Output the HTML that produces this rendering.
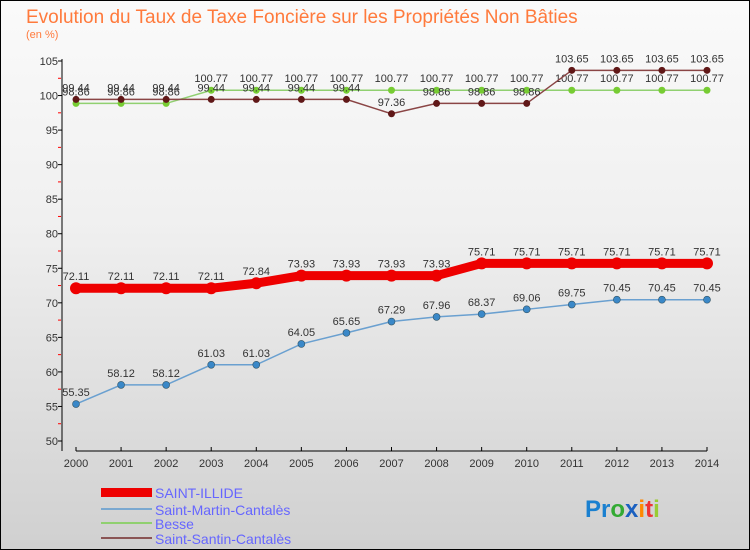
<!DOCTYPE html>
<html><head><meta charset="utf-8"><style>
body{margin:0;}
#c{width:748px;height:548px;border:1px solid #000;background:linear-gradient(#fafafa,#f0f0f0 40%,#d0d0d0);position:relative;font-family:"Liberation Sans",sans-serif;overflow:hidden}
</style></head><body>
<div id="c">
<svg id="s" width="748" height="548" xmlns="http://www.w3.org/2000/svg" style="position:absolute;left:0;top:0">
<text x="25" y="22" font-size="19" fill="#ff7a3c">Evolution du Taux de Taxe Foncière sur les Propriétés Non Bâties</text>
<text x="25" y="37" font-size="11" fill="#ff7a3c">(en %)</text>
<g id="axes"></g><g id="series"></g>
<g>
<rect x="100" y="487" width="51" height="9" fill="#e00"/>
<text x="154" y="497" font-size="14" fill="#66f">SAINT-ILLIDE</text>
<line x1="100" y1="508" x2="151" y2="508" stroke="#7aa8d0" stroke-width="2"/>
<text x="154" y="514" font-size="14" fill="#66f">Saint-Martin-Cantalès</text>
<line x1="100" y1="522" x2="151" y2="522" stroke="#90d070" stroke-width="2"/>
<text x="154" y="528" font-size="14" fill="#66f">Besse</text>
<line x1="100" y1="537" x2="151" y2="537" stroke="#8a5555" stroke-width="2"/>
<text x="154" y="543" font-size="14" fill="#66f">Saint-Santin-Cantalès</text>
</g>
<text x="584" y="516" font-size="24" font-weight="bold"><tspan fill="#1a80d0">Pr</tspan><tspan fill="#3a3">o</tspan><tspan fill="#1a60c0">x</tspan><tspan fill="#f80">i</tspan><tspan fill="#e33">t</tspan><tspan fill="#9c3">i</tspan></text>
</svg></div>
<script>
const years=[2000,2001,2002,2003,2004,2005,2006,2007,2008,2009,2010,2011,2012,2013,2014];
const yTicks=[50,55,60,65,70,75,80,85,90,95,100,105];
const illide=[72.11,72.11,72.11,72.11,72.84,73.93,73.93,73.93,73.93,75.71,75.71,75.71,75.71,75.71,75.71];
const martin=[55.35,58.12,58.12,61.03,61.03,64.05,65.65,67.29,67.96,68.37,69.06,69.75,70.45,70.45,70.45];
const besse=[98.86,98.86,98.86,100.77,100.77,100.77,100.77,100.77,100.77,100.77,100.77,100.77,100.77,100.77,100.77];
const santin=[99.44,99.44,99.44,99.44,99.44,99.44,99.44,97.36,98.86,98.86,98.86,103.65,103.65,103.65,103.65];
const NS="http://www.w3.org/2000/svg";
function X(i){return 75+i*(631/14);}
function Y(v){return 60+(105-v)*380/55;}
function mk(t,a,p){const e=document.createElementNS(NS,t);for(const k in a)e.setAttribute(k,a[k]);p.appendChild(e);return e;}
const ax=document.getElementById('axes'),sg=document.getElementById('series');
mk('line',{x1:61,y1:58,x2:61,y2:450,stroke:'#000'},ax);
mk('line',{x1:75,y1:450,x2:706,y2:450,stroke:'#000'},ax);
yTicks.forEach(v=>{const t=mk('text',{x:57,y:Y(v)+4,'font-size':11,fill:'#333','text-anchor':'end'},ax);t.textContent=v;


mk('line',{x1:57,y1:Y(v),x2:61,y2:Y(v),stroke:'#000'},ax);
if(v<105)mk('line',{x1:57,y1:Y(v+2.5),x2:60,y2:Y(v+2.5),stroke:'#f00'},ax);});
years.forEach((y,i)=>{mk('line',{x1:X(i),y1:446,x2:X(i),y2:450,stroke:'#000'},ax);
const t=mk('text',{x:X(i),y:466,'font-size':11,fill:'#333','text-anchor':'middle'},ax);t.textContent=y;

});
function series(d,col,w,r,dot,name,lab){
const g=mk('g',{},sg);


mk('polyline',{points:d.map((v,i)=>X(i)+','+Y(v)).join(' '),fill:'none',stroke:col,'stroke-width':w},g);
d.forEach((v,i)=>{const c=mk('circle',{cx:X(i),cy:Y(v),r:r,fill:dot,stroke:lab?'#356':'none','stroke-width':0.6},g);


const t=mk('text',{x:X(i),y:Y(v)-8,'font-size':11,fill:'#333','text-anchor':'middle'},g);t.textContent=v;

});}
series(besse,'#90d070',1.5,3.5,'#7c3','besse-line');
series(santin,'#8a4545',1.5,3.5,'#601818','saint-santin-line');
series(martin,'#6aa0d0',1.5,3.5,'#3a88c8','saint-martin-line',true);
series(illide,'#ee0000',9,6,'#ee0000','saint-illide-line');
</script>
</body></html>
